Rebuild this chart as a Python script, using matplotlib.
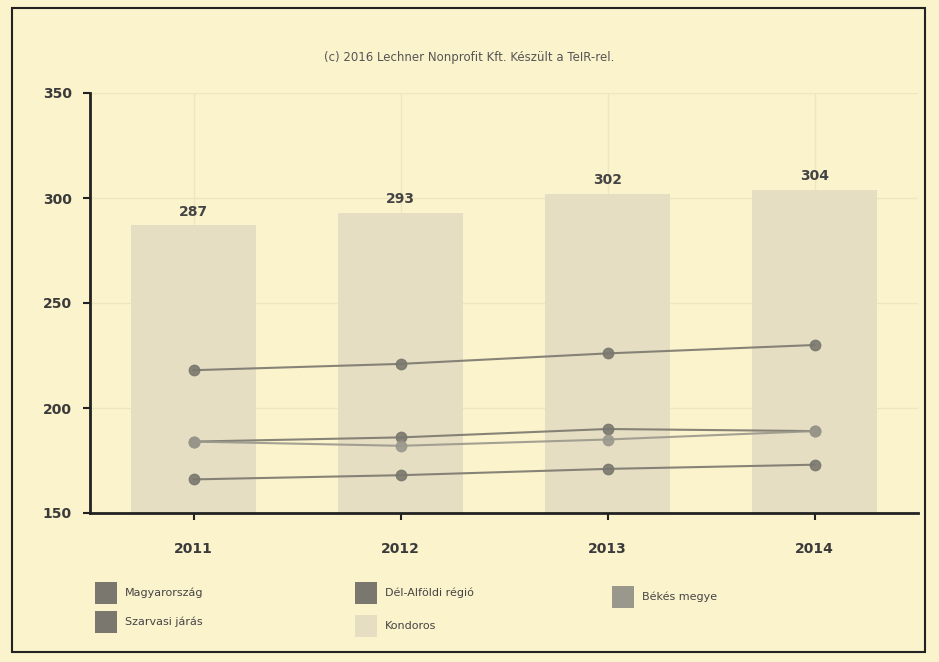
import matplotlib
matplotlib.use("Agg")
import matplotlib.pyplot as plt
from matplotlib.patches import Rectangle
import numpy as np

years = ["2011", "2012", "2013", "2014"]
kondoros = [287, 293, 302, 304]
magyarorszag = [218, 221, 226, 230]
del_alfold = [184, 186, 190, 189]
bekes = [184, 182, 185, 189]
szarvas = [166, 168, 171, 173]

yticks = [150, 200, 250, 300, 350]
title = "(c) 2016 Lechner Nonprofit Kft. Készült a TeIR-rel."

bg = "#fbf3cc"
bar_col = "#e5dec2"
line_dark = "#7a786e"
line_mid = "#9a988c"

fig = plt.figure(figsize=(9.39, 6.62), dpi=100, facecolor=bg)
ax = fig.add_axes([90/939, 1-513/662, (918-90)/939, (513-93)/662])
ax.set_facecolor(bg)

x = np.arange(len(years))
bars = ax.bar(x, kondoros, width=0.6, color=bar_col, zorder=2)
for xi, v in zip(x, kondoros):
    ax.text(xi, v + 3, str(v), ha="center", va="bottom", fontsize=10,
            fontweight="bold", color="#444444", zorder=5)

series = [
    (magyarorszag, line_dark),
    (del_alfold, line_dark),
    (bekes, line_mid),
    (szarvas, line_dark),
]
for vals, c in series:
    ax.plot(x, vals, color=c, lw=1.5, marker="o", ms=7.5, mfc=c, mec=c, zorder=4, alpha=0.9)

ax.set_xlim(-0.5, 3.5)
ax.set_ylim(150, 350)
ax.set_yticks(yticks)
ax.set_xticks(x)
ax.set_xticklabels(years)
ax.tick_params(axis="both", direction="out", length=5, width=1.5, colors="#222222",
               labelsize=10, labelcolor="#3a3a3a")
ax.tick_params(axis="x", pad=16)
ax.tick_params(axis="y", pad=8)
for lab in ax.get_xticklabels() + ax.get_yticklabels():
    lab.set_fontweight("semibold")
for s in ["top", "right"]:
    ax.spines[s].set_visible(False)
for s in ["left", "bottom"]:
    ax.spines[s].set_linewidth(2)
    ax.spines[s].set_color("#222222")
ax.grid(True, color="#eee6bf", lw=1, zorder=0)
ax.set_axisbelow(True)

fig.text(0.5, 1-57/662, title, ha="center", va="center", fontsize=8.5, color="#555555")

# legend
legend_items = [
    ("Magyarország", line_dark, 95, 593),
    ("Dél-Alföldi régió", line_dark, 355, 593),
    ("Békés megye", line_mid, 612, 597),
    ("Szarvasi járás", line_dark, 95, 622),
    ("Kondoros", bar_col, 355, 626),
]
W, H = 939, 662
for name, c, px, py in legend_items:
    fig.add_artist(Rectangle((px/W, 1-(py+11)/H), 22/W, 22/H, transform=fig.transFigure,
                             facecolor=c, edgecolor="none"))
    fig.text((px+30)/W, 1-py/H, name, ha="left", va="center", fontsize=8, color="#444444")

# outer frame
fig.add_artist(Rectangle((12/W, 1-652/H), (925-12)/W, (652-8)/H, transform=fig.transFigure,
                         facecolor="none", edgecolor="#222222", lw=1.5))

fig.savefig("out.png", dpi=100, facecolor=bg)
